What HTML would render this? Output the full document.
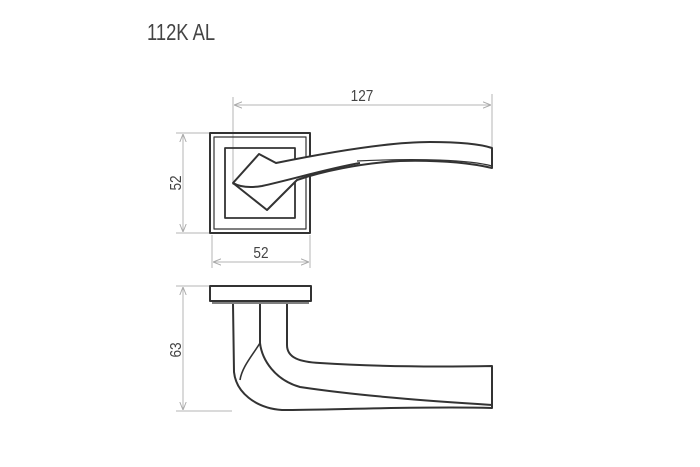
<!DOCTYPE html>
<html><head><style>
html,body{margin:0;padding:0;background:#fff;width:700px;height:467px;overflow:hidden}
svg{display:block}
</style></head><body>
<svg width="700" height="467" viewBox="0 0 700 467" xmlns="http://www.w3.org/2000/svg">
<defs>
<marker id="a" viewBox="0 0 10 10" refX="10" refY="5" markerWidth="8" markerHeight="8" orient="auto-start-reverse" markerUnits="userSpaceOnUse"><path d="M0,1 L10,5 L0,9" fill="none" stroke="#aaa" stroke-width="1.2"/></marker>
</defs>
<text x="147" y="40" font-family="Liberation Sans, sans-serif" font-size="23" fill="#444" transform="translate(147 0) scale(0.8 1) translate(-147 0)">112K  AL</text>
<g stroke="#b5b5b5" stroke-width="1" fill="none">
<line x1="233" y1="97" x2="233" y2="185"/>
<line x1="492" y1="94" x2="492" y2="148"/>
<line x1="234" y1="105" x2="491" y2="105" marker-start="url(#a)" marker-end="url(#a)"/>
<line x1="176" y1="133" x2="210" y2="133"/>
<line x1="176" y1="233" x2="210" y2="233"/>
<line x1="183" y1="134" x2="183" y2="232" marker-start="url(#a)" marker-end="url(#a)"/>
<line x1="212" y1="235" x2="212" y2="268"/>
<line x1="310" y1="235" x2="310" y2="268"/>
<line x1="213" y1="262" x2="309" y2="262" marker-start="url(#a)" marker-end="url(#a)"/>
<line x1="176" y1="286" x2="210" y2="286"/>
<line x1="176" y1="411" x2="232" y2="411"/>
<line x1="183" y1="287" x2="183" y2="410" marker-start="url(#a)" marker-end="url(#a)"/>
</g>
<g font-family="Liberation Sans, sans-serif" font-size="16" fill="#444">
<text x="362" y="101" text-anchor="middle" transform="translate(362 0) scale(0.85 1) translate(-362 0)">127</text>
<text x="261" y="258" text-anchor="middle" transform="translate(261 0) scale(0.85 1) translate(-261 0)">52</text>
<text transform="translate(181 183) rotate(-90) scale(0.85 1)" text-anchor="middle">52</text>
<text transform="translate(181 350) rotate(-90) scale(0.85 1)" text-anchor="middle">63</text>
</g>
<g stroke="#333" stroke-width="2" fill="none" stroke-linejoin="round">
<rect x="210" y="133" width="100" height="100"/>
<rect x="214" y="137" width="92" height="92" stroke-width="1.2"/>
<rect x="225" y="148" width="70" height="70" stroke-width="1.8"/>
<path d="M233,183 L259,154 L276,163 C330,152 390,142 430,142 C460,142 480,144 492,148 L492,168 C470,163 440,160 400,161 C360,163 320,172 297,180 L267,210 Z" fill="#fff"/>
<path d="M233,183 C240,187 250,188 262,186 C290,180 330,168 360,163"/>
<path d="M357,161 C420,158 470,160 492,166" stroke-width="1.2"/>
<rect x="210" y="286" width="101" height="15" fill="#fff"/>
<line x1="212" y1="303" x2="309" y2="303" stroke-width="1.2"/>
<path d="M233,304 L234,372 C236,392 255,408 282,410 C330,410 420,406 492,408 L492,366 C440,367 380,367 320,363 C300,362 287,358 287,345 L287,304"/>
<path d="M260,304 L260,343 C262,360 275,380 300,387 C360,396 430,401 492,405"/>
<path d="M260,343 C252,356 242,367 240,380" stroke-width="1.6"/>
</g>
</svg>
</body></html>
